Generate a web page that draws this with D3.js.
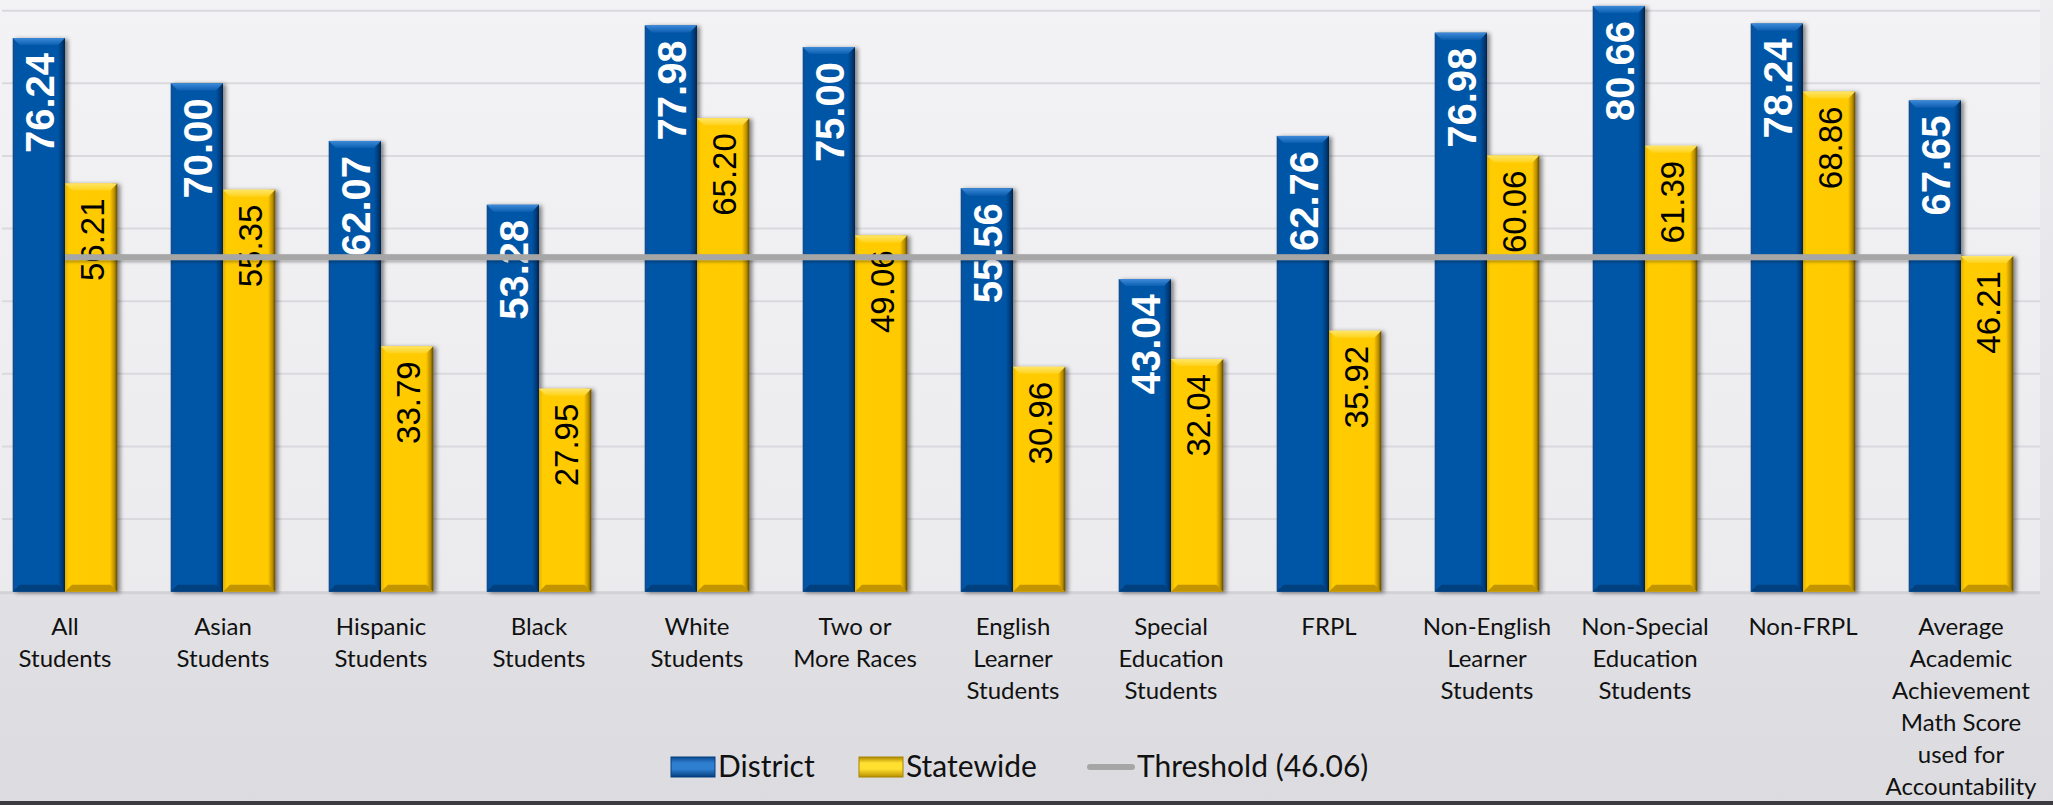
<!doctype html>
<html>
<head>
<meta charset="UTF-8">
<title>District vs Statewide Math</title>
<style>
  html, body { margin: 0; padding: 0; background: #e4e4e8; }
  svg { display: block; }
  .cat { font-family: Lato, "Open Sans", sans-serif; font-size: 24px; fill: #111; }
  .leg { font-family: Lato, "Open Sans", sans-serif; font-size: 30px; fill: #111; }
</style>
<script src="https://d3js.org/d3.v7.min.js"></script>
</head>
<body>
<svg id="chart" width="2053" height="805"></svg>
<script>
// data
var categories = [
  ["All", "Students"],
  ["Asian", "Students"],
  ["Hispanic", "Students"],
  ["Black", "Students"],
  ["White", "Students"],
  ["Two or", "More Races"],
  ["English", "Learner", "Students"],
  ["Special", "Education", "Students"],
  ["FRPL"],
  ["Non-English", "Learner", "Students"],
  ["Non-Special", "Education", "Students"],
  ["Non-FRPL"],
  ["Average", "Academic", "Achievement", "Math Score", "used for", "Accountability"]
];
var district  = [76.24, 70.00, 62.07, 53.28, 77.98, 75.00, 55.56, 43.04, 62.76, 76.98, 80.66, 78.24, 67.65];
var statewide = [56.21, 55.35, 33.79, 27.95, 65.20, 49.06, 30.96, 32.04, 35.92, 60.06, 61.39, 68.86, 46.21];
var threshold = 46.06;
var seriesNames = ["District", "Statewide"];
var yTicks = [10, 20, 30, 40, 50, 60, 70, 80];

var svg = d3.select("#chart");
var W = 2053, H = 805;
var plotRight = 2040, baseY = 591.7, topY = 10.7;

var keys = categories.map(function(c, i) { return "c" + i; });

var x = d3.scaleBand().domain(keys).range([-14, plotRight]).paddingInner(0.338).paddingOuter(0.169);
var xs = d3.scaleBand().domain(seriesNames).range([0, x.bandwidth()]);
var y = d3.scaleLinear().domain([0, 80]).range([baseY, topY]);

var defs = svg.append("defs");

function grad(id, stops, vertical) {
  var g = defs.append("linearGradient").attr("id", id)
    .attr("x1", 0).attr("y1", 0).attr("x2", vertical ? 0 : 1).attr("y2", vertical ? 1 : 0);
  stops.forEach(function(s) {
    g.append("stop").attr("offset", s[0]).attr("stop-color", s[1]);
  });
}
grad("bgAll", [["0", "#eeeef1"], ["1", "#dcdce0"]], true);
grad("bgPlot", [["0", "#f3f3f5"], ["1", "#ebebee"]], true);
grad("gBlue", [["0", "#0a4a90"], ["0.07", "#0556a6"], ["0.86", "#0556a6"], ["0.95", "#033a78"], ["1", "#01214a"]], false);
grad("gYellow", [["0", "#e0b000"], ["0.07", "#ffcc00"], ["0.86", "#ffca00"], ["0.95", "#b68a00"], ["1", "#5a4500"]], false);
grad("gBlueTop", [["0", "#3d8ad8"], ["1", "#0d5fb2"]], true);
grad("gYellowTop", [["0", "#ffe566"], ["1", "#ffd21a"]], true);
grad("gBlueLeg", [["0", "#0a4a90"], ["0.3", "#2f7fd0"], ["0.6", "#2f7fd0"], ["1", "#063e7e"]], true);
grad("gYellowLeg", [["0", "#b08800"], ["0.3", "#ffe030"], ["0.6", "#ffe030"], ["1", "#b89000"]], true);

var sh = defs.append("filter").attr("id", "shadow").attr("x", "-20%").attr("y", "-5%").attr("width", "150%").attr("height", "115%");
sh.append("feDropShadow").attr("dx", 3).attr("dy", 1).attr("stdDeviation", 2)
  .attr("flood-color", "#000").attr("flood-opacity", 0.45);
var lsh = defs.append("filter").attr("id", "lshadow").attr("filterUnits", "userSpaceOnUse")
  .attr("x", 0).attr("y", 0).attr("width", W).attr("height", H);
lsh.append("feDropShadow").attr("dx", 0).attr("dy", 2).attr("stdDeviation", 1.5)
  .attr("flood-color", "#000").attr("flood-opacity", 0.3);

// backgrounds
svg.append("rect").attr("width", W).attr("height", H).attr("fill", "url(#bgAll)");
svg.append("rect").attr("x", 0).attr("y", 0).attr("width", plotRight).attr("height", baseY)
  .attr("fill", "url(#bgPlot)");

// gridlines
svg.append("g").selectAll("line").data(yTicks).join("line")
  .attr("x1", 2).attr("x2", plotRight)
  .attr("y1", function(d) { return y(d); }).attr("y2", function(d) { return y(d); })
  .attr("stroke", "#dadade").attr("stroke-width", 2);

// baseline
svg.append("line").attr("x1", 0).attr("x2", plotRight).attr("y1", baseY + 1).attr("y2", baseY + 1)
  .attr("stroke", "#d2d2d6").attr("stroke-width", 3);

// bars
var rows = [];
categories.forEach(function(c, i) {
  rows.push({ key: keys[i], s: "District", v: district[i] });
  rows.push({ key: keys[i], s: "Statewide", v: statewide[i] });
});

var bars = svg.append("g").selectAll("g.bar").data(rows).join("g").attr("class", "bar")
  .attr("filter", "url(#shadow)");

var bv = 7; // bevel size
bars.append("rect")
  .attr("x", function(d) { return x(d.key) + xs(d.s); })
  .attr("y", function(d) { return y(d.v); })
  .attr("width", xs.bandwidth())
  .attr("height", function(d) { return baseY - y(d.v); })
  .attr("fill", function(d) { return d.s == "District" ? "url(#gBlue)" : "url(#gYellow)"; });

// top bevel
bars.append("polygon")
  .attr("points", function(d) {
    var x0 = x(d.key) + xs(d.s), x1 = x0 + xs.bandwidth(), t = y(d.v);
    return [[x0, t], [x1, t], [x1 - bv, t + bv], [x0 + bv, t + bv]].join(" ");
  })
  .attr("fill", function(d) { return d.s == "District" ? "url(#gBlueTop)" : "url(#gYellowTop)"; });

// bottom bevel
bars.append("polygon")
  .attr("points", function(d) {
    var x0 = x(d.key) + xs(d.s), x1 = x0 + xs.bandwidth();
    return [[x0 + bv, baseY - bv], [x1 - bv, baseY - bv], [x1, baseY], [x0, baseY]].join(" ");
  })
  .attr("fill", function(d) { return d.s == "District" ? "#043f7e" : "#c29400"; });

// value labels
svg.append("g").selectAll("text").data(rows).join("text")
  .attr("transform", function(d) {
    var cx = x(d.key) + xs(d.s) + xs.bandwidth() / 2 + 1;
    return "translate(" + cx + "," + (y(d.v) + 15) + ") rotate(-90)";
  })
  .attr("text-anchor", "end")
  .attr("dy", "0.36em")
  .attr("font-family", "'Liberation Sans', Arial, sans-serif")
  .attr("font-size", function(d) { return d.s == "District" ? "40px" : "33px"; })
  .attr("font-weight", function(d) { return d.s == "District" ? "bold" : "normal"; })
  .attr("fill", function(d) { return d.s == "District" ? "#fff" : "#000"; })
  .text(function(d) { return d.v.toFixed(2); });

// threshold line, centre of first group to centre of last group
var thrX0 = x(keys[0]) + x.bandwidth() / 2;
var thrX1 = x(keys[keys.length - 1]) + x.bandwidth() / 2;
svg.append("rect")
  .attr("x", thrX0).attr("width", thrX1 - thrX0)
  .attr("y", y(threshold) - 3).attr("height", 6)
  .attr("fill", "#a6a6a6")
  .attr("filter", "url(#lshadow)");

// category labels
var cat = svg.append("g").selectAll("text").data(categories).join("text")
  .attr("class", "cat")
  .attr("text-anchor", "middle")
  .attr("x", function(d, i) { return x(keys[i]) + x.bandwidth() / 2; })
  .attr("y", 635);
cat.selectAll("tspan").data(function(d) { return d; }).join("tspan")
  .attr("x", function() { return d3.select(this.parentNode).attr("x"); })
  .attr("dy", function(d, j) { return j == 0 ? 0 : 32; })
  .text(function(d) { return d; });

// legend
var leg = svg.append("g");
leg.append("rect").attr("x", 671).attr("y", 757).attr("width", 44).attr("height", 20)
  .attr("fill", "url(#gBlueLeg)").attr("stroke", "#063e7e").attr("stroke-width", 1);
leg.append("text").attr("class", "leg").attr("x", 718).attr("y", 777).text("District");
leg.append("rect").attr("x", 859).attr("y", 757).attr("width", 44).attr("height", 20)
  .attr("fill", "url(#gYellowLeg)").attr("stroke", "#a88400").attr("stroke-width", 1);
leg.append("text").attr("class", "leg").attr("x", 906).attr("y", 777).text("Statewide");
leg.append("line").attr("x1", 1090).attr("x2", 1132).attr("y1", 767).attr("y2", 767)
  .attr("stroke", "#a6a6a6").attr("stroke-width", 6).attr("stroke-linecap", "round");
leg.append("text").attr("class", "leg").attr("x", 1137).attr("y", 777).text("Threshold (" + threshold.toFixed(2) + ")");

// dark frame edge at the bottom
svg.append("rect").attr("x", 0).attr("y", 801).attr("width", W).attr("height", 4).attr("fill", "#3c3c3e");
</script>
</body>
</html>
